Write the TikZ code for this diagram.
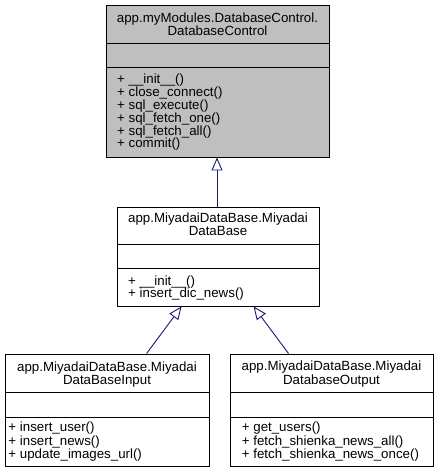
\documentclass[tikz,border=0pt]{standalone}
\usepackage{fontspec}
\setmainfont{Liberation Sans}
\usetikzlibrary{arrows.meta}
\definecolor{edgeblue}{HTML}{191970}
\definecolor{boxgray}{HTML}{BFBFBF}
\tikzset{
  classbox/.style={draw=black, line width=0.9pt, rectangle, inner sep=0pt},
  divline/.style={draw=black, line width=0.9pt},
  ttl/.style={font=\fontsize{13.3}{11.7}\selectfont, inner sep=0pt, anchor=base, align=center},
  mtxt/.style={font=\fontsize{13.3}{12.8}\selectfont, inner sep=0pt, anchor=base west},
  inherit/.style={draw=edgeblue, line width=0.9pt, -{Triangle[open, length=13pt, width=11pt]}}
}
\begin{document}
\begin{tikzpicture}[x=1pt, y=-1pt]
\useasboundingbox (0,0) rectangle (437,473);
% top class
\node[classbox, fill=boxgray, minimum width=223pt, minimum height=152pt] (dc) at (217.5,81) {};
\draw[divline] (dc.west |- 0,43) -- (dc.east |- 0,43);
\draw[divline] (dc.west |- 0,67) -- (dc.east |- 0,67);
\node[ttl] (dct) at (217.5,35.7) {app.myModules.DatabaseControl.\\DatabaseControl};
\foreach \t [count=\i] in {+ \_\_init\_\_(), + close\_connect(), + sql\_execute(), + sql\_fetch\_one(), + sql\_fetch\_all(), + commit()}
  \node[mtxt] (dcm\i) at (117, 84+12.8*\i-12.8) {\t};
% middle class
\node[classbox, fill=white, minimum width=202pt, minimum height=99pt] (md) at (218,256.5) {};
\draw[divline] (md.west |- 0,244) -- (md.east |- 0,244);
\draw[divline] (md.west |- 0,268) -- (md.east |- 0,268);
\node[ttl] (mdt) at (218,235.7) {app.MiyadaiDataBase.Miyadai\\DataBase};
\node[mtxt] (mdm1) at (128,285) {+ \_\_init\_\_()};
\node[mtxt] (mdm2) at (128,297.8) {+ insert\_dic\_news()};
% left bottom class
\node[classbox, fill=white, minimum width=204pt, minimum height=112pt] (in) at (107,410) {};
\draw[divline] (in.west |- 0,392) -- (in.east |- 0,392);
\draw[divline] (in.west |- 0,417) -- (in.east |- 0,417);
\node[ttl] (int) at (107,384) {app.MiyadaiDataBase.Miyadai\\DataBaseInput};
\foreach \t [count=\i] in {+ insert\_user(), + insert\_news(), + update\_images\_url()}
  \node[mtxt] (inm\i) at (8.3, 431.7+13.3*\i-13.3) {\t};
% right bottom class
\node[classbox, fill=white, minimum width=203pt, minimum height=112pt] (out) at (331.5,410) {};
\draw[divline] (out.west |- 0,392) -- (out.east |- 0,392);
\draw[divline] (out.west |- 0,417) -- (out.east |- 0,417);
\node[ttl] (outt) at (331.5,384) {app.MiyadaiDataBase.Miyadai\\DatabaseOutput};
\foreach \t [count=\i] in {+ get\_users(), + fetch\_shienka\_news\_all(), + fetch\_shienka\_news\_once()}
  \node[mtxt] (outm\i) at (241.7, 431.7+13.3*\i-13.3) {\t};
% inheritance
\draw[inherit] (md.north -| 217,0) -- (dc.south -| 217,0);
\draw[inherit] ([xshift=142pt]in.north west) -- ([xshift=65pt]md.south west);
\draw[inherit] ([xshift=59pt]out.north west) -- ([xshift=137pt]md.south west);
\end{tikzpicture}
\end{document}
